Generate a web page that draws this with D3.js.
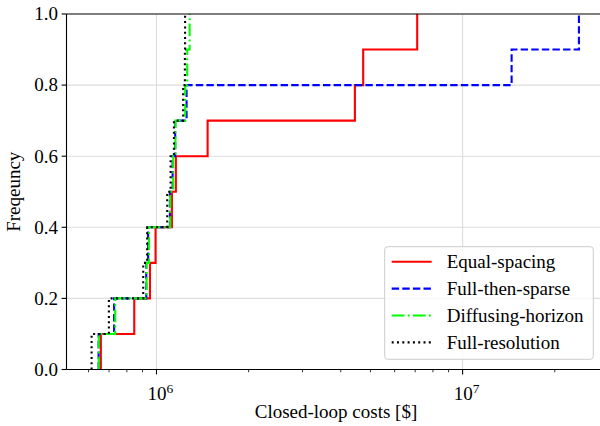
<!DOCTYPE html>
<html>
<head>
<meta charset="utf-8">
<script src="https://cdn.jsdelivr.net/npm/d3@7"></script>
<style>
  body { margin: 0; background: #fff; }
  svg text { font-family: "Liberation Serif", "Times New Roman", serif; fill: #000; }
</style>
</head>
<body>
<div id="vis"></div>
<script>
// series values (closed-loop costs, $), 10 runs each
var equalSpacing   = [6.58e5, 8.46e5, 9.52e5, 9.93e5, 1.123e6, 1.157e6, 1.469e6, 4.448e6, 4.734e6, 7.107e6]
var fullThenSparse = [6.47e5, 7.27e5, 9.26e5, 9.39e5, 1.106e6, 1.129e6, 1.151e6, 1.254e6, 1.446e7, 2.399e7]
var diffusing      = [6.48e5, 7.33e5, 9.28e5, 9.45e5, 1.109e6, 1.134e6, 1.153e6, 1.241e6, 1.260e6, 1.283e6]
var fullRes        = [6.137e5, 6.99e5, 9.05e5, 9.32e5, 1.084e6, 1.112e6, 1.140e6, 1.222e6, 1.238e6, 1.240e6]

var seriesNames = ["Equal-spacing", "Full-then-sparse", "Diffusing-horizon", "Full-resolution"]
var yTicks = [0, 0.2, 0.4, 0.6, 0.8, 1.0]
var xMajor = [1e6, 1e7]
var xMinor = [6e5, 7e5, 8e5, 9e5, 2e6, 3e6, 4e6, 5e6, 6e6, 7e6, 8e6, 9e6, 2e7, 3e7]

var width = 600
var height = 426
var mLeft = 66.5, mTop = 14, mBottom = 369.5, mRight = 603.4
var fs = 19

var styles = [
  {color: "#ff0000", dash: null},
  {color: "#0000ff", dash: "7.4,3.2"},
  {color: "#00ff00", dash: "12.8,3.2,2,3.2"},
  {color: "#000000", dash: "2,3.3"}
]
var allSeries = [equalSpacing, fullThenSparse, diffusing, fullRes]

var svg = d3.select('#vis').append('svg')
  .attr('width', width)
  .attr('height', height)

var x = d3.scaleLog().domain([Math.pow(10, 5.706), Math.pow(10, 7.460)]).range([mLeft, mRight])
var y = d3.scaleLinear().domain([0, 1]).range([mBottom, mTop])

svg.append('clipPath').attr('id', 'clip')
  .append('rect').attr('x', mLeft).attr('y', mTop).attr('width', mRight - mLeft).attr('height', mBottom - mTop)

//grid
svg.append('g').selectAll('line').data(yTicks.slice(1, -1)).enter().append('line')
  .attr('x1', mLeft).attr('x2', mRight)
  .attr('y1', d => y(d)).attr('y2', d => y(d))
  .attr('stroke', '#dddddd').attr('stroke-width', 1.1)
svg.append('g').selectAll('line').data(xMajor).enter().append('line')
  .attr('x1', d => x(d)).attr('x2', d => x(d))
  .attr('y1', mTop).attr('y2', mBottom)
  .attr('stroke', '#dddddd').attr('stroke-width', 1.1)

//ecdf step lines
var line = d3.line()
  .x(d => x(d[0])).y(d => y(d[1]))
  .curve(d3.curveStepAfter)

var plot = svg.append('g').attr('clip-path', 'url(#clip)')
allSeries.forEach(function(vals, i){
  var sorted = vals.slice().sort(d3.ascending)
  var pts = [[sorted[0], 0]].concat(sorted.map((v, j) => [v, (j + 1) / sorted.length]))
  plot.append('path')
    .attr('d', line(pts))
    .attr('fill', 'none')
    .attr('stroke', styles[i].color)
    .attr('stroke-width', 2.1)
    .attr('stroke-dasharray', styles[i].dash)
})

//spines
svg.append('line').attr('x1', mLeft).attr('x2', mLeft).attr('y1', mTop).attr('y2', mBottom)
  .attr('stroke', '#000').attr('stroke-width', 1.1)
svg.append('line').attr('x1', mLeft).attr('x2', mRight).attr('y1', mBottom).attr('y2', mBottom)
  .attr('stroke', '#000').attr('stroke-width', 1.1)
svg.append('line').attr('x1', mLeft).attr('x2', mRight).attr('y1', mTop).attr('y2', mTop)
  .attr('stroke', '#000').attr('stroke-width', 1.1)

//y ticks
var yg = svg.append('g')
yg.selectAll('line').data(yTicks).enter().append('line')
  .attr('x1', mLeft - 4.9).attr('x2', mLeft)
  .attr('y1', d => y(d)).attr('y2', d => y(d))
  .attr('stroke', '#000').attr('stroke-width', 1.1)
yg.selectAll('text').data(yTicks).enter().append('text')
  .attr('x', mLeft - 8.5).attr('y', d => y(d) + 6.3)
  .attr('text-anchor', 'end')
  .style('font-size', fs + 'px')
  .text(d => d.toFixed(1))

//x ticks
var xg = svg.append('g')
xg.selectAll('line.maj').data(xMajor).enter().append('line')
  .attr('x1', d => x(d)).attr('x2', d => x(d))
  .attr('y1', mBottom).attr('y2', mBottom + 4.9)
  .attr('stroke', '#000').attr('stroke-width', 1.1)
xg.selectAll('line.min').data(xMinor.filter(d => x(d) >= mLeft && x(d) <= mRight)).enter().append('line')
  .attr('x1', d => x(d)).attr('x2', d => x(d))
  .attr('y1', mBottom).attr('y2', mBottom + 2.8)
  .attr('stroke', '#000').attr('stroke-width', 0.8)
var xt = xg.selectAll('text').data(xMajor).enter().append('text')
  .attr('x', d => x(d) + 4).attr('y', 400)
  .attr('text-anchor', 'middle')
  .style('font-size', fs + 'px')
xt.append('tspan').text('10')
xt.append('tspan').attr('dy', -7.5).style('font-size', '13.5px').text(d => Math.round(Math.log10(d)))

//axis labels
svg.append('text')
  .attr('x', 336).attr('y', 418)
  .attr('text-anchor', 'middle')
  .style('font-size', fs + 'px')
  .text('Closed-loop costs [$]')
svg.append('text')
  .attr('transform', 'translate(19.5,' + ((mTop + mBottom) / 2) + ') rotate(-90)')
  .attr('text-anchor', 'middle')
  .style('font-size', fs + 'px')
  .text('Freqeuncy')

//legend
var lg = svg.append('g')
lg.append('rect')
  .attr('x', 384.7).attr('y', 246.7).attr('width', 208.6).attr('height', 112.6)
  .attr('rx', 3)
  .attr('fill', 'white').attr('fill-opacity', 0.8)
  .attr('stroke', '#cccccc').attr('stroke-width', 1)
seriesNames.forEach(function(name, i){
  var ly = 261.7 + i * 26.9
  lg.append('line')
    .attr('x1', 391.7).attr('x2', 431.7).attr('y1', ly).attr('y2', ly)
    .attr('stroke', styles[i].color).attr('stroke-width', 2.1)
    .attr('stroke-dasharray', styles[i].dash)
  lg.append('text')
    .attr('x', 446.7).attr('y', ly + 6.3)
    .style('font-size', fs + 'px')
    .text(name)
})
</script>
</body>
</html>
